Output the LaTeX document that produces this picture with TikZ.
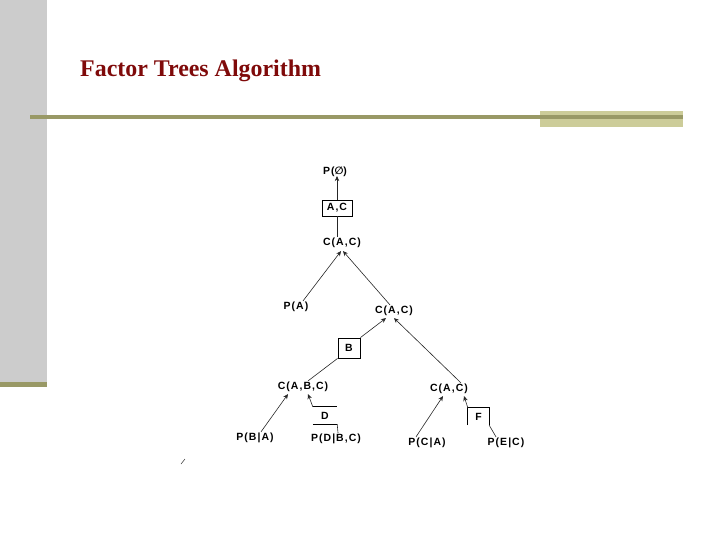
\documentclass[tikz,border=0pt]{standalone}
\usepackage{fontspec}
\setmainfont{Liberation Serif}
\newfontfamily\diagfont[LetterSpace=10]{Liberation Sans}
\newfontfamily\dvsfont{DejaVu Sans}
\usetikzlibrary{arrows.meta}
\definecolor{barGray}{HTML}{CCCCCC}
\definecolor{olive}{HTML}{999966}
\definecolor{lightOlive}{HTML}{CCCC99}
\definecolor{titleRed}{HTML}{7F0A0A}
\tikzset{
  lbl/.style={font=\diagfont\bfseries\fontsize{10.5}{12}\selectfont, inner sep=1bp},
  boxed/.style={lbl, draw, line width=0.8bp},
  conn/.style={draw=black!85, line width=0.6bp},
  arr/.style={conn, -{Stealth[length=5bp,width=4.5bp]}},
}
\begin{document}
\begin{tikzpicture}[x=1bp,y=-1bp]
\useasboundingbox (0,0) rectangle (720,540);
% slide decoration
\fill[barGray] (0,0) rectangle (47,382);
\fill[olive] (0,382) rectangle (47,387);
\fill[lightOlive] (540,111) rectangle (683,127);
\draw[olive, line width=3.5bp] (30,117) -- (683,117);
\node[anchor=base west, inner sep=0, text=titleRed, font=\bfseries\fontsize{24}{28}\selectfont] (title) at (80,77) {Factor Trees Algorithm};

% nodes
\node[lbl] (pe) at (335,172) {P({\dvsfont ∅})};
\node[boxed, minimum width=30bp, minimum height=16bp] (acbox) at (337,208) {A,C};
\node[lbl] (cac1) at (342,243) {C(A,C)};
\node[lbl] (pa) at (296,307) {P(A)};
\node[lbl] (cac2) at (394,311) {C(A,C)};
\node[boxed, minimum width=22bp, minimum height=20bp] (bbox) at (349,348) {B};
\node[lbl] (cabc) at (303,387) {C(A,B,C)};
\node[lbl] (cac3) at (449,389) {C(A,C)};
\node[lbl, minimum width=24bp, minimum height=17bp] (dnode) at (325,415.5) {D};
\node[lbl, minimum width=21bp, minimum height=17bp] (fnode) at (478.5,416.5) {F};
\node[lbl] (pba) at (255,438) {P(B|A)};
\node[lbl] (pdbc) at (336,439) {P(D|B,C)};
\node[lbl] (pca) at (427,443) {P(C|A)};
\node[lbl] (pec) at (506,443) {P(E|C)};

% partial boxes
\draw[line width=0.8bp] (dnode.north west) -- (dnode.north east);
\draw[line width=0.8bp] (dnode.south west) -- (dnode.south east);
\draw[line width=0.8bp] (fnode.south west) -- (fnode.north west) -- (fnode.north east) -- (fnode.south east);

% connectors
\draw[arr] (acbox.north) -- ([yshift=2bp]acbox.north |- pe.south);
\draw[conn] (acbox.south) -- (acbox.south |- cac1.north);
\draw[arr] ([xshift=7bp]pa.north) -- ([xshift=-1bp,yshift=-2bp]cac1.south);
\draw[arr] ([xshift=-4bp]cac2.north) -- ([xshift=1bp,yshift=-2bp]cac1.south);
\draw[arr] (bbox.north east) -- ([xshift=-8bp,yshift=-1bp]cac2.south);
\draw[arr] ([xshift=12bp]cac3.north) -- ([xshift=0bp,yshift=-1bp]cac2.south);
\draw[conn] (bbox.south west) -- ([xshift=5bp]cabc.north);
\draw[arr] ([xshift=6bp]pba.north) -- ([xshift=-15bp,yshift=-1bp]cabc.south);
\draw[arr] (dnode.north west) -- ([xshift=5bp,yshift=-1bp]cabc.south);
\draw[conn] ([xshift=2bp]pdbc.north) -- (dnode.south east);
\draw[arr] ([xshift=-11bp]pca.north) -- ([xshift=-6bp,yshift=-1bp]cac3.south);
\draw[arr] (fnode.north west) -- ([xshift=15bp,yshift=-1bp]cac3.south);
\draw[conn] (fnode.south east) -- ([xshift=-10bp]pec.north);

% stray mark
\draw[black!70, line width=0.6bp] (181,464) -- (185,459);
\end{tikzpicture}
\end{document}
